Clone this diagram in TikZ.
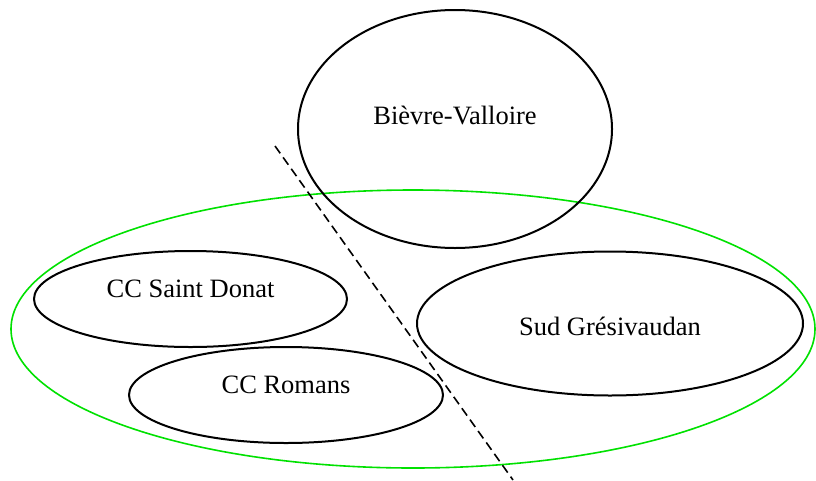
\documentclass[tikz,border=0pt]{standalone}
\usepackage{fontspec}
\setmainfont{Liberation Serif}
\usetikzlibrary{shapes.geometric}

\definecolor{GRP}{RGB}{0,225,0}

\begin{document}
\begin{tikzpicture}[x=1pt, y=-1pt,
        zone/.style={ellipse, draw=black, line width=2pt, inner sep=0pt,
            font=\fontsize{26.5}{30}\selectfont, text height=0pt},
        cut/.style={black, line width=1.6pt, dash pattern=on 9pt off 5pt}]
            \useasboundingbox (0,0) rectangle (816,480);

            % groupe
            \node[draw=GRP, line width=1.6pt, ellipse, inner sep=0pt,
                minimum width=804, minimum height=278] (grp) at (413,329) {};

            \node[zone, minimum width=314, minimum height=238, text depth=10pt] (bv) at (455,129) {Bièvre-Valloire};
            \node[zone, minimum width=313, minimum height=96, text depth=4pt] (sd) at (190.5,299) {CC Saint Donat};
            \node[zone, minimum width=314, minimum height=96, text depth=4pt] (ro) at (286,395) {CC Romans};
            \node[zone, minimum width=386, minimum height=144, text height=23pt, text depth=0pt] (sg) at (610,323.5) {Sud Grésivaudan};

            % coupure
            \coordinate (cutA) at (275,146);
            \coordinate (cutB) at (513,480);
            \draw[cut] (cutA) -- (cutB);
        \end{tikzpicture}
\end{document}
